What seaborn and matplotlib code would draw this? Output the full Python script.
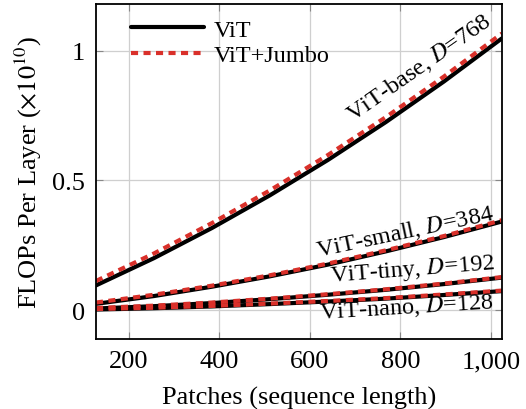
import numpy as np
import pandas as pd
import matplotlib
matplotlib.use("Agg")
import matplotlib.pyplot as plt
import seaborn as sns
from matplotlib.ticker import FuncFormatter
from matplotlib.lines import Line2D

# patches (sequence length)
patches = [128, 256, 384, 512, 640, 768, 896, 1024]

# FLOPs per layer (x 1e10)
vit_base = [0.096, 0.201, 0.317, 0.443, 0.579, 0.725, 0.881, 1.047]
vit_small = [0.025, 0.055, 0.091, 0.131, 0.176, 0.227, 0.282, 0.342]
vit_tiny = [0.007, 0.016, 0.028, 0.043, 0.060, 0.079, 0.101, 0.126]
vit_nano = [0.003, 0.008, 0.015, 0.024, 0.034, 0.045, 0.059, 0.074]

jumbo_base = [0.113, 0.219, 0.336, 0.462, 0.598, 0.744, 0.900, 1.066]
jumbo_small = [0.030, 0.060, 0.095, 0.135, 0.180, 0.231, 0.286, 0.347]
jumbo_tiny = [0.009, 0.018, 0.030, 0.045, 0.062, 0.081, 0.103, 0.128]
jumbo_nano = [0.005, 0.010, 0.017, 0.026, 0.036, 0.047, 0.061, 0.076]

models = ["ViT-base", "ViT-small", "ViT-tiny", "ViT-nano"]
widths = [768, 384, 192, 128]
methods = ["ViT", "ViT+Jumbo"]

rows = []
for m, v, j in zip(models, [vit_base, vit_small, vit_tiny, vit_nano],
                   [jumbo_base, jumbo_small, jumbo_tiny, jumbo_nano]):
    for n, a, b in zip(patches, v, j):
        rows.append({"model": m, "method": "ViT", "patches": n, "flops": a})
        rows.append({"model": m, "method": "ViT+Jumbo", "patches": n, "flops": b})
df = pd.DataFrame(rows)

sns.set_style("ticks")
plt.rcParams["font.family"] = ["Liberation Serif", "DejaVu Serif"]
plt.rcParams["mathtext.fontset"] = "stix"
plt.rcParams["text.color"] = "black"
plt.rcParams["axes.labelcolor"] = "black"
plt.rcParams["xtick.labelcolor"] = "black"
plt.rcParams["ytick.labelcolor"] = "black"

black = "#000000"
red = "#d9302a"

fig = plt.figure(figsize=(5.26, 4.10), dpi=100)
ax = fig.add_axes([0.1825, 0.171, 0.7715, 0.817])

sns.lineplot(data=df[df.method == "ViT"], x="patches", y="flops", units="model",
             estimator=None, color=black, lw=3.0, ax=ax)
sns.lineplot(data=df[df.method == "ViT+Jumbo"], x="patches", y="flops", units="model",
             estimator=None, color=red, lw=3.0, ax=ax)
for line in ax.lines[len(models):]:
    line.set_dashes((1.7, 1.3))

ax.set_xlim(128, 1024)
ax.set_ylim(-0.11, 1.18)
ax.set_xticks([200, 400, 600, 800, 1000])
ax.set_yticks([0, 0.5, 1])
ax.xaxis.set_major_formatter(FuncFormatter(lambda v, p: f"{v:,.0f}"))
ax.yaxis.set_major_formatter(FuncFormatter(lambda v, p: f"{v:g}"))
ax.grid(True, color="#cfcfcf", lw=0.9)
ax.tick_params(direction="in", top=True, right=True, labelsize=19, length=5,
               width=0.8, color="#888888", pad=8)
for s in ax.spines.values():
    s.set_linewidth(1.3)
    s.set_color("black")

ax.set_xlabel("Patches (sequence length)", fontsize=19, labelpad=10)
ax.set_ylabel(r"FLOPs Per Layer ($\times10^{10}$)", fontsize=19, labelpad=6)

# curve labels
label_pos = [(842, 0.935, 35), (810, 0.305, 12), (826, 0.16, 4.5), (813, 0.015, 3.5)]
for m, d, (x, y, r) in zip(models, widths, label_pos):
    ax.text(x, y, f"{m}, $D$={d}", fontsize=17.5, rotation=r, ha="center",
            va="center", rotation_mode="anchor")

handles = [Line2D([0], [0], color=black, lw=3.0),
           Line2D([0], [0], color=red, lw=3.0, dashes=(1.7, 1.3))]
ax.legend(handles, methods, loc="upper left", frameon=False, fontsize=17.5,
          handlelength=3.0, handletextpad=0.4, labelspacing=0.15,
          bbox_to_anchor=(0.05, 1.0), borderaxespad=0.2)

fig.savefig("out.png", dpi=100)
